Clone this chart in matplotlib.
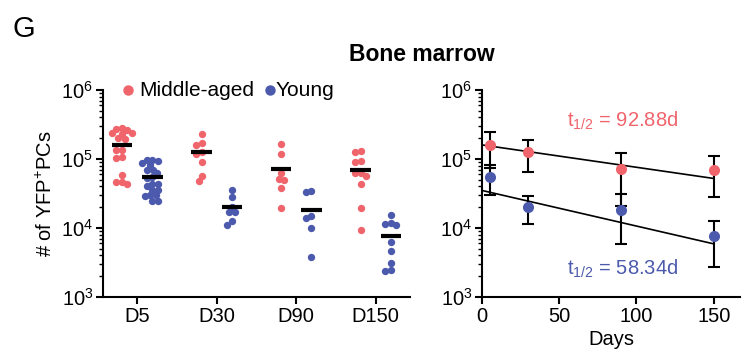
import numpy as np
import matplotlib
matplotlib.use('Agg')
import matplotlib.pyplot as plt
from matplotlib.lines import Line2D
from matplotlib.ticker import NullFormatter, FixedLocator

plt.rcParams['font.family'] = ['Liberation Sans', 'DejaVu Sans']
plt.rcParams['mathtext.fontset'] = 'custom'
plt.rcParams['mathtext.rm'] = 'Liberation Sans'
plt.rcParams['mathtext.it'] = 'Liberation Sans:italic'
plt.rcParams['mathtext.default'] = 'regular'

RED = '#f0646c'
BLUE = '#4c5aae'

timepoints = ['D5', 'D30', 'D90', 'D150']
days = [5, 30, 90, 150]

# YFP+ plasma cells per mouse
middle_aged = [
    [2.8e5, 2.75e5, 2.6e5, 2.4e5, 2.35e5, 2.3e5, 2.0e5, 1.95e5,
     1.35e5, 1.35e5, 1.05e5, 1.08e5, 5.9e4, 4.7e4, 4.6e4, 4.3e4],
    [2.3e5, 1.6e5, 1.73e5, 1.28e5, 1.2e5, 9.1e4, 5.7e4, 4.8e4],
    [1.65e5, 1.18e5, 6.2e4, 5.0e4, 5.2e4, 3.85e4, 1.93e4],
    [1.28e5, 1.31e5, 8.9e4, 9.4e4, 5.7e4, 6.2e4, 6.2e4, 4.35e4, 1.93e4, 9.3e3],
]
young = [
    [9.7e4, 9.8e4, 9.3e4, 8.2e4, 8.7e4, 6.9e4, 6.9e4, 6.2e4, 5.5e4, 5.3e4,
     4.4e4, 4.4e4, 4.0e4, 3.6e4, 3.6e4, 3.0e4, 3.0e4, 2.9e4, 2.5e4, 2.5e4],
    [3.5e4, 2.8e4, 1.7e4, 1.7e4, 2.0e4, 1.1e4, 1.25e4],
    [3.37e4, 3.4e4, 1.4e4, 1.5e4, 9.9e3, 3.8e3],
    [1.55e4, 1.1e4, 1.17e4, 1.13e4, 6.3e3, 4.6e3, 3.1e3, 2.4e3, 2.5e3],
]

# one-phase decay fits
half_life = [92.88, 58.34]
fit_start = [1.6e5, 3.5e4]


def swarm(values, center, px_x=79.7, px_y=69.0, d=5.8):
    # simple beeswarm, worked out in pixel units
    ys = np.log10(values) * px_y
    xs = np.zeros(len(values))
    placed = []
    for i in np.argsort(-np.asarray(values)):
        y = ys[i]
        cands = [0.0]
        for px, py in placed:
            dy = abs(y - py)
            if dy < d:
                dx = np.sqrt(d * d - dy * dy)
                cands += [px - dx, px + dx]
        cands.sort(key=abs)
        for c in cands:
            if all((c - px) ** 2 + (y - py) ** 2 >= d * d - 1e-6 for px, py in placed):
                break
        placed.append((c, y))
        xs[i] = center + c / px_x
    return xs


def style(ax):
    for s in ['top', 'right']:
        ax.spines[s].set_visible(False)
    for s in ['left', 'bottom']:
        ax.spines[s].set_linewidth(1.5)
    ax.set_yscale('log')
    ax.set_ylim(1e3, 1e6)
    ax.yaxis.set_minor_formatter(NullFormatter())
    ax.tick_params(which='major', direction='out', length=5, width=1.5, labelsize=14.5, pad=2)
    ax.tick_params(which='minor', direction='out', length=3, width=1)


fig = plt.figure(figsize=(7.45, 3.52), dpi=100)
ax1 = fig.add_axes([103 / 745, 1 - 297 / 352, 307 / 745, 207 / 352])
ax2 = fig.add_axes([482 / 745, 1 - 297 / 352, 258 / 745, 207 / 352])

# left: individual mice + mean
for i, (m, y) in enumerate(zip(middle_aged, young)):
    for vals, off, col in [(m, -0.19, RED), (y, 0.19, BLUE)]:
        xs = swarm(vals, i + off)
        ax1.scatter(xs, vals, s=28, color=col, linewidths=0, zorder=2)
        mu = np.mean(vals)
        ax1.plot([i + off - 0.13, i + off + 0.13], [mu, mu], color='black',
                 lw=3, solid_capstyle='butt', zorder=3)

style(ax1)
ax1.set_xlim(-0.43, 3.43)
ax1.set_xticks(range(len(timepoints)))
ax1.set_xticklabels(timepoints)
ax1.xaxis.set_minor_locator(FixedLocator([]))
ax1.set_ylabel('# of YFP$^{+}$PCs', fontsize=14.5, labelpad=4)

# right: mean +/- SD with decay fits
t = np.linspace(0, 150, 100)
for grp, col, hl, n0 in [(middle_aged, RED, half_life[0], fit_start[0]),
                         (young, BLUE, half_life[1], fit_start[1])]:
    mu = [np.mean(v) for v in grp]
    sd = [np.std(v, ddof=1) for v in grp]
    ax2.plot(t, n0 * 2 ** (-t / hl), color='black', lw=1.2, zorder=1)
    ax2.errorbar(days, mu, yerr=sd, fmt='none', ecolor='black', elinewidth=1.5,
                 capsize=4.5, capthick=1.5, zorder=2)
    ax2.plot(days, mu, 'o', color=col, markersize=8, markeredgewidth=0, zorder=3)

style(ax2)
ax2.set_xlim(0, 167)
ax2.set_xticks([0, 50, 100, 150])
ax2.set_xlabel('Days', fontsize=14.5, labelpad=3)

fig.text(567 / 745, 1 - 127 / 352, 't$_{1/2}$ = %.2fd' % half_life[0], color=RED,
         fontsize=14.5, va='baseline')
fig.text(567 / 745, 1 - 275 / 352, 't$_{1/2}$ = %.2fd' % half_life[1], color=BLUE,
         fontsize=14.5, va='baseline')

# legend
fig.add_artist(Line2D([128 / 745], [1 - 90 / 352], transform=fig.transFigure, marker='o',
                      color=RED, markersize=7.5, markeredgewidth=0, linestyle='none'))
fig.text(139 / 745, 1 - 90 / 352, 'Middle-aged', fontsize=15, va='center')
fig.add_artist(Line2D([270 / 745], [1 - 90 / 352], transform=fig.transFigure, marker='o',
                      color=BLUE, markersize=7.5, markeredgewidth=0, linestyle='none'))
fig.text(276 / 745, 1 - 90 / 352, 'Young', fontsize=15, va='center')

fig.text(422 / 745, 1 - 61 / 352, 'Bone marrow', fontsize=16.5, fontweight='bold',
         ha='center', va='baseline')
fig.text(12 / 745, 1 - 37 / 352, 'G', fontsize=21, va='baseline')

fig.savefig('out.png', dpi=100)
